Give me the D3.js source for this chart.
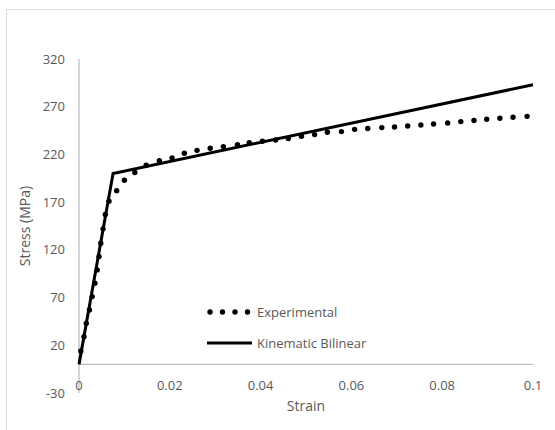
<!DOCTYPE html>
<html>
<head>
<meta charset="utf-8">
<script src="https://cdn.jsdelivr.net/npm/d3@7"></script>
<style>
  body { margin: 0; background: #fff; }
  text { font-family: "Open Sans", sans-serif; fill: #595959; }
</style>
</head>
<body>
<div id="chart"></div>
<script>
// Experimental curve (strain, stress in MPa)
const expStrain = [0.0004, 0.0011, 0.0016, 0.0023, 0.0029, 0.0035, 0.0040, 0.0044, 0.0048, 0.0053,
  0.0058, 0.0066, 0.0083, 0.0100, 0.0123, 0.0148, 0.0177, 0.0205, 0.0232, 0.0260,
  0.0289, 0.0318, 0.0349, 0.0375, 0.0404, 0.0433, 0.0461, 0.0490, 0.0519, 0.0547,
  0.0578, 0.0607, 0.0636, 0.0667, 0.0695, 0.0724, 0.0753, 0.0781, 0.0812, 0.0841,
  0.0870, 0.0898, 0.0927, 0.0956, 0.0987];
const expStress = [14, 29, 43, 57, 71, 85, 99, 113, 127, 142,
  157, 171, 182, 193, 201, 208.6, 213.5, 216.2, 221.2, 224.3,
  226.4, 228.2, 230.3, 232.4, 233.8, 235.1, 236.6, 239.0, 240.8, 243.2,
  243.9, 246.3, 247.1, 248.1, 248.7, 249.8, 250.8, 251.9, 252.9, 254.4,
  255.5, 256.8, 257.9, 258.9, 259.9];

// Kinematic bilinear model
const bilStrain = [0, 0.0075, 0.1];
const bilStress = [0, 200, 293];

const xTicks = [0, 0.02, 0.04, 0.06, 0.08, 0.1];
const yTicks = [-30, 20, 70, 120, 170, 220, 270, 320];

const width = 555, height = 430;

const svg = d3.select("#chart").append("svg")
  .attr("width", width)
  .attr("height", height);

// chart area border
svg.append("rect")
  .attr("x", 6.5).attr("y", 9.5)
  .attr("width", 600).attr("height", 500)
  .attr("fill", "none")
  .attr("stroke", "#d9d9d9");

const x = d3.scaleLinear().domain([0, 0.1]).range([79, 533]);
const y = d3.scaleLinear().domain([-30, 320]).range([393, 59]);

// axes lines
svg.append("line")
  .attr("x1", x(0)).attr("x2", x(0.1))
  .attr("y1", y(0)).attr("y2", y(0))
  .attr("stroke", "#bfbfbf").attr("stroke-width", 1.3);
svg.append("line")
  .attr("x1", x(0)).attr("x2", x(0))
  .attr("y1", y(320)).attr("y2", y(-30))
  .attr("stroke", "#bfbfbf").attr("stroke-width", 1.3);

// tick labels
svg.selectAll(".ytick")
  .data(yTicks)
  .join("text")
  .attr("class", "ytick")
  .attr("x", 65)
  .attr("y", d => y(d))
  .attr("dy", "0.35em")
  .attr("text-anchor", "end")
  .style("font-size", "13px")
  .text(d => d);

svg.selectAll(".xtick")
  .data(xTicks)
  .join("text")
  .attr("class", "xtick")
  .attr("x", d => x(d))
  .attr("y", 385)
  .attr("dy", "0.35em")
  .attr("text-anchor", "middle")
  .style("font-size", "13px")
  .text(d => d);

// axis titles
svg.append("text")
  .attr("transform", `translate(25,${(y(320) + y(-30)) / 2}) rotate(-90)`)
  .attr("dy", "0.35em")
  .attr("text-anchor", "middle")
  .style("font-size", "14px")
  .text("Stress (MPa)");

svg.append("text")
  .attr("x", (x(0) + x(0.1)) / 2)
  .attr("y", 406)
  .attr("dy", "0.35em")
  .attr("text-anchor", "middle")
  .style("font-size", "14px")
  .text("Strain");

// bilinear line
const bil = bilStrain.map((s, i) => [s, bilStress[i]]);
svg.append("path")
  .datum(bil)
  .attr("fill", "none")
  .attr("stroke", "#000")
  .attr("stroke-width", 3)
  .attr("stroke-linejoin", "miter")
  .attr("d", d3.line().x(d => x(d[0])).y(d => y(d[1])));

// experimental dots
const exp = expStrain.map((s, i) => [s, expStress[i]]);
svg.selectAll(".dot")
  .data(exp)
  .join("circle")
  .attr("class", "dot")
  .attr("cx", d => x(d[0]))
  .attr("cy", d => y(d[1]))
  .attr("r", 2.7)
  .attr("fill", "#000");

// legend
const leg = svg.append("g");
leg.selectAll("circle")
  .data([210, 222.5, 235, 247.5])
  .join("circle")
  .attr("cx", d => d)
  .attr("cy", 312)
  .attr("r", 2.7)
  .attr("fill", "#000");
leg.append("text")
  .attr("x", 257).attr("y", 312).attr("dy", "0.35em")
  .style("font-size", "13px")
  .text("Experimental");
leg.append("line")
  .attr("x1", 207).attr("x2", 252)
  .attr("y1", 343).attr("y2", 343)
  .attr("stroke", "#000").attr("stroke-width", 3);
leg.append("text")
  .attr("x", 257).attr("y", 343).attr("dy", "0.35em")
  .style("font-size", "13px")
  .text("Kinematic Bilinear");
</script>
</body>
</html>
